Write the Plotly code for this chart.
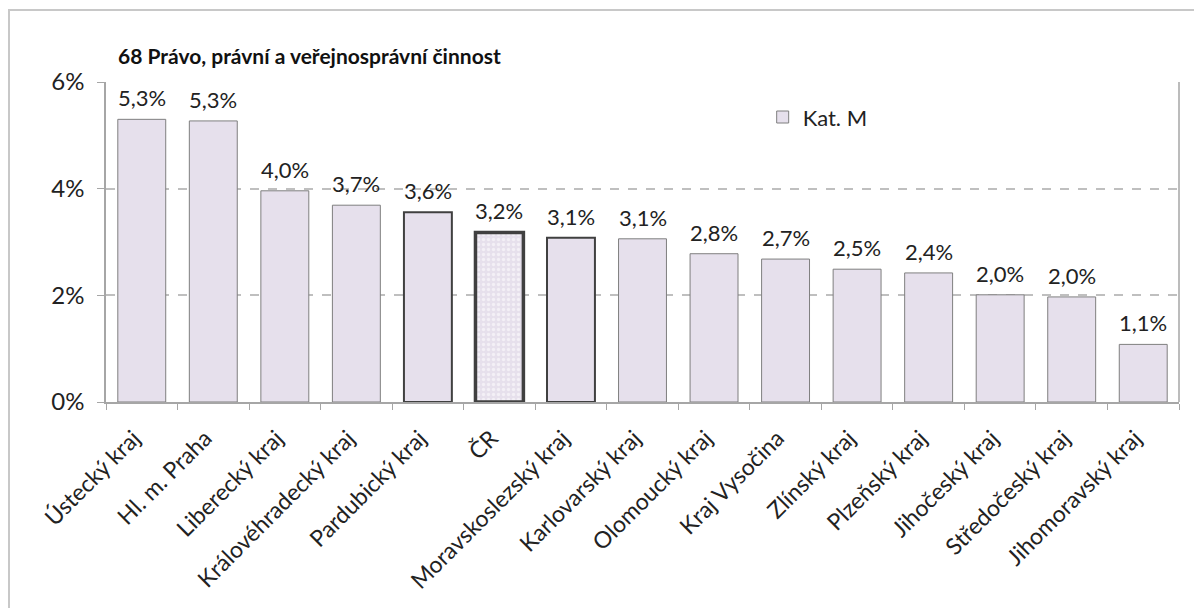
import plotly.graph_objects as go

REGIONS = ["Ústecký kraj", "Hl. m. Praha", "Liberecký kraj", "Královéhradecký kraj",
           "Pardubický kraj", "ČR", "Moravskoslezský kraj", "Karlovarský kraj",
           "Olomoucký kraj", "Kraj Vysočina", "Zlínský kraj", "Plzeňský kraj",
           "Jihočeský kraj", "Středočeský kraj", "Jihomoravský kraj"]
SHARE = [0.053, 0.0527, 0.0396, 0.0369, 0.0356, 0.0318, 0.0308, 0.0306,
         0.0278, 0.0268, 0.0249, 0.0242, 0.0201, 0.0197, 0.0108]
Y_TICKS = [0, 0.02, 0.04, 0.06]

FILL = "#E6E0EC"
FONT = "Lato, 'Open Sans', sans-serif"

# page body adds ~8px offset, so the figure is laid out in shifted coordinates
W, H = 1194, 600
L, T, R, B = 98, 74, 23, 206
PW, PH = W - L - R, H - T - B

line_col = []
line_w = []
pat_shape = []
for r in REGIONS:
    if r == "ČR":
        line_col.append("#404040"); line_w.append(3.5); pat_shape.append(".")
    elif r in ("Pardubický kraj", "Moravskoslezský kraj"):
        line_col.append("#404040"); line_w.append(2); pat_shape.append("")
    else:
        line_col.append("#7f7f7f"); line_w.append(1); pat_shape.append("")

fig = go.Figure(go.Bar(
    x=REGIONS, y=SHARE, name="Kat. M",
    marker=dict(color=FILL, line=dict(color=line_col, width=line_w),
                pattern=dict(shape=pat_shape, fgcolor="white", bgcolor=FILL,
                             size=5, solidity=0.35)),
    hovertemplate="%{x}: %{y:.1%}<extra></extra>",
    showlegend=True))

# value labels sit a bit higher above the bars than plotly's own outside text
for r, v in zip(REGIONS, SHARE):
    fig.add_annotation(x=r, y=v, text=f"{v * 100:.1f}".replace(".", ",") + "%",
                       showarrow=False, yanchor="bottom", yshift=6,
                       font=dict(size=22, color="#222222", family=FONT))

fig.add_shape(type="line", xref="paper", yref="paper", x0=1, x1=1, y0=0, y1=1,
              line=dict(color="#a6a6a6", width=1.5))
# outer chart frame
fig.add_shape(type="rect", xref="paper", yref="paper",
              x0=(1 - L) / PW, x1=(W + 20 - L) / PW, y0=-(B + 20) / PH, y1=(H - B - 2) / PH,
              line=dict(color="#c8c8c8", width=2), layer="below")

fig.update_xaxes(type="category", tickangle=-45, tickson="boundaries",
                 ticks="outside", ticklen=6, tickcolor="#a6a6a6",
                 showline=True, linecolor="#a6a6a6", linewidth=1.5,
                 ticklabelstandoff=12, ticklabelshift=-8,
                 tickfont=dict(size=23, color="#222222", family=FONT))
fig.update_yaxes(range=[0, 0.06], tickvals=Y_TICKS, tickformat=".0%",
                 ticks="outside", ticklen=7, tickcolor="#a6a6a6",
                 showline=True, linecolor="#a6a6a6", linewidth=1.5,
                 showgrid=True, gridcolor="#bfbfbf", griddash="dash", gridwidth=1.5,
                 zeroline=False, ticklabelstandoff=8,
                 tickfont=dict(size=24, color="#222222", family=FONT))

fig.update_layout(
    width=W, height=H, separators=", ",
    plot_bgcolor="white", paper_bgcolor="white",
    margin=dict(l=L, r=R, t=T, b=B, autoexpand=False),
    bargap=0.33,
    title=dict(text="<b>68 Právo, právní a veřejnosprávní činnost</b>",
               x=110 / W, xanchor="left", y=1 - 49 / H, yanchor="middle",
               font=dict(size=21, color="#111111", family=FONT)),
    legend=dict(x=0.612, y=0.89, xanchor="left", yanchor="middle",
                bgcolor="rgba(0,0,0,0)", font=dict(size=22, color="#222222", family=FONT),
                itemwidth=30),
    font=dict(family=FONT),
)

fig.write_html("out.html")
